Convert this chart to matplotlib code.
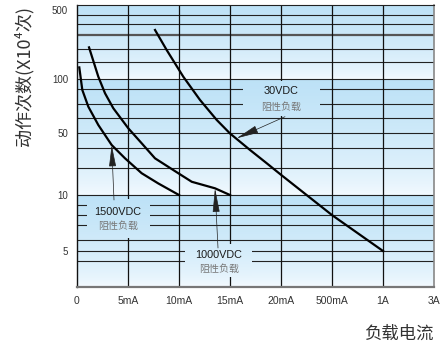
import numpy as np
import matplotlib
matplotlib.use("Agg")
import matplotlib.pyplot as plt

# ---- data ----
x_ticks_mA = [0, 5, 10, 15, 20, 500, 1000, 3000]
x_labels = ["0", "5mA", "10mA", "15mA", "20mA", "500mA", "1A", "3A"]
y_ticks = [5, 10, 50, 100, 500]
y_labels = ["5", "10", "50", "100", "500"]
y_grid = [450, 360, 200, 150, 100, 88, 73, 61, 50, 34, 20, 10, 8.8, 7.8, 6.9, 5.7, 5, 4.4]
y_grid_thick = [280]

v1500_x = [0.225, 0.52, 1.11, 2.09, 3.40, 4.71, 6.34, 7.97, 10]
v1500_y = [131, 86.9, 70.1, 55.4, 36.6, 25.9, 17.6, 13.5, 10]

v1000_x = [1.18, 2.09, 2.75, 3.56, 5.03, 6.34, 7.65, 9.93, 11.25, 13.53, 15]
v1000_y = [209, 105.5, 83.2, 68.7, 53.1, 38.3, 25.9, 17.6, 14.1, 11.9, 10]

v30_x = [7.65, 8.79, 10.42, 12.06, 13.7, 15, 16.96, 18.6, 20, 500, 1000]
v30_y = [313.6, 196.7, 105.5, 76.4, 59.1, 49.4, 32.2, 22.8, 16.9, 7.8, 5]

# ---- scales ----
xk = np.array(x_ticks_mA, float)
xi = np.arange(len(xk), dtype=float)

def xf(v):
    return np.interp(v, xk, xi)

def xinv(p):
    return np.interp(p, xi, xk)

yk = np.log10([3.2, 5, 10, 50, 100, 500, 562])
yp = np.array([0, 0.1277, 0.3262, 0.5461, 0.7376, 0.9823, 1.0])

def yf(v):
    return np.interp(np.log10(np.clip(v, 1e-6, None)), yk, yp)

def yinv(p):
    return 10 ** np.interp(p, yp, yk)

# pixel -> axes fraction helpers (plot box 77..434 x 5..287)
def px(x):
    return (x - 77) / 357.0

def py(y):
    return (287 - y) / 282.0

blue = np.array([0.74, 0.885, 0.968])
white = np.array([0.965, 0.985, 1.0])
bands = [(0.0, float(yf(10))), (float(yf(10)), float(yf(100))), (float(yf(100)), 1.0)]

def band_color(f):
    for lo, hi in bands:
        if lo <= f <= hi:
            t = (f - lo) / (hi - lo)
            return white + (blue - white) * t ** 0.6
    return white

def grad(ax, x0, x1, y0, y1, z):
    fs = np.linspace(y1, y0, 300)
    img = np.array([band_color(f) for f in fs])[:, None, :]
    ax.imshow(img, extent=[x0, x1, y0, y1], transform=ax.transAxes,
              aspect="auto", zorder=z, interpolation="bilinear")

fig = plt.figure(figsize=(4.42, 3.45), dpi=100)
ax = fig.add_axes([77 / 442, 58 / 345, 357 / 442, 282 / 345])
ax.set_xscale("function", functions=(xf, xinv))
ax.set_yscale("function", functions=(yf, yinv))

grad(ax, 0, 1, 0, 1, 0)

for g in y_grid:
    ax.axhline(g, color="#222222", lw=0.8, zorder=1)
for g in y_grid_thick:
    ax.axhline(g, color="#555555", lw=1.6, zorder=1)
for v in x_ticks_mA[1:-1]:
    ax.axvline(v, color="#111111", lw=0.9, zorder=1)

# gaps behind the labels
grad(ax, px(243), px(320), py(116), py(81), 1.5)
grad(ax, px(87), px(150), py(238), py(199), 1.5)
grad(ax, px(185), px(252), py(277), py(244), 1.5)

ax.plot(v1500_x, v1500_y, color="black", lw=1.6, zorder=3)
ax.plot(v1000_x, v1000_y, color="black", lw=1.6, zorder=3)
ax.plot(v30_x, v30_y, color="black", lw=1.6, zorder=3)

ax.set_xlim(0, 3000)
ax.set_ylim(3.2, 562)
ax.set_xticks(x_ticks_mA)
ax.set_xticklabels(x_labels)
ax.set_yticks(y_ticks)
ax.set_yticklabels(y_labels)
ax.minorticks_off()
ax.tick_params(length=0, pad=6.5, colors="#333333")
for lab in ax.get_xticklabels():
    lab.set_fontsize(7.5)
    lab.set_family("Liberation Sans")
for lab in ax.get_yticklabels():
    lab.set_fontsize(7)
    lab.set_family("Liberation Sans")

ax.spines["top"].set_color("#222222")
ax.spines["top"].set_linewidth(0.8)
ax.spines["left"].set_color("#111111")
ax.spines["left"].set_linewidth(1.0)
ax.spines["bottom"].set_color("#777777")
ax.spines["bottom"].set_linewidth(1.6)
ax.spines["right"].set_color("#888888")
ax.spines["right"].set_linewidth(1.2)

cjk = ["Noto Sans CJK SC", "DejaVu Sans"]
lat = ["Liberation Sans", "DejaVu Sans"]

# labels
ax.text(px(281), py(91), "30VDC", transform=ax.transAxes, ha="center", va="center",
        fontsize=7.8, family=lat, color="#1a1a1a", zorder=5)
ax.text(px(281), py(107), "阻性负载", transform=ax.transAxes, ha="center", va="center",
        fontsize=7.2, family=cjk, color="#777777", zorder=5)
ax.text(px(118), py(212), "1500VDC", transform=ax.transAxes, ha="center", va="center",
        fontsize=7.8, family=lat, color="#1a1a1a", zorder=5)
ax.text(px(118), py(226), "阻性负载", transform=ax.transAxes, ha="center", va="center",
        fontsize=7.2, family=cjk, color="#777777", zorder=5)
ax.text(px(219), py(255), "1000VDC", transform=ax.transAxes, ha="center", va="center",
        fontsize=7.8, family=lat, color="#1a1a1a", zorder=5)
ax.text(px(219), py(269), "阻性负载", transform=ax.transAxes, ha="center", va="center",
        fontsize=7.2, family=cjk, color="#777777", zorder=5)

def arrow(tip, tail, hl, hw):
    ax.annotate("", xy=tip, xycoords="data", xytext=tail, textcoords="axes fraction",
                arrowprops=dict(arrowstyle="-|>,head_length=%s,head_width=%s" % (hl, hw),
                                color="#222222", lw=0.5, shrinkA=0, shrinkB=0),
                zorder=4)

arrow((15.65, 43.6), (px(285), py(116.7)), 1.4, 0.24)
arrow((3.40, 36.6), (px(114), py(200)), 1.35, 0.22)
arrow((13.53, 11.9), (px(218), py(248)), 1.5, 0.22)

fig.text(24 / 442, 1 - 76 / 345, "动作次数(X10⁴次)", rotation=90, ha="center", va="center",
         fontsize=13, family=cjk, color="#333333")
fig.text(434 / 442, 1 - 334 / 345, "负载电流", ha="right", va="center",
         fontsize=12.5, family=cjk, color="#333333")

fig.savefig("out.png", dpi=100)
